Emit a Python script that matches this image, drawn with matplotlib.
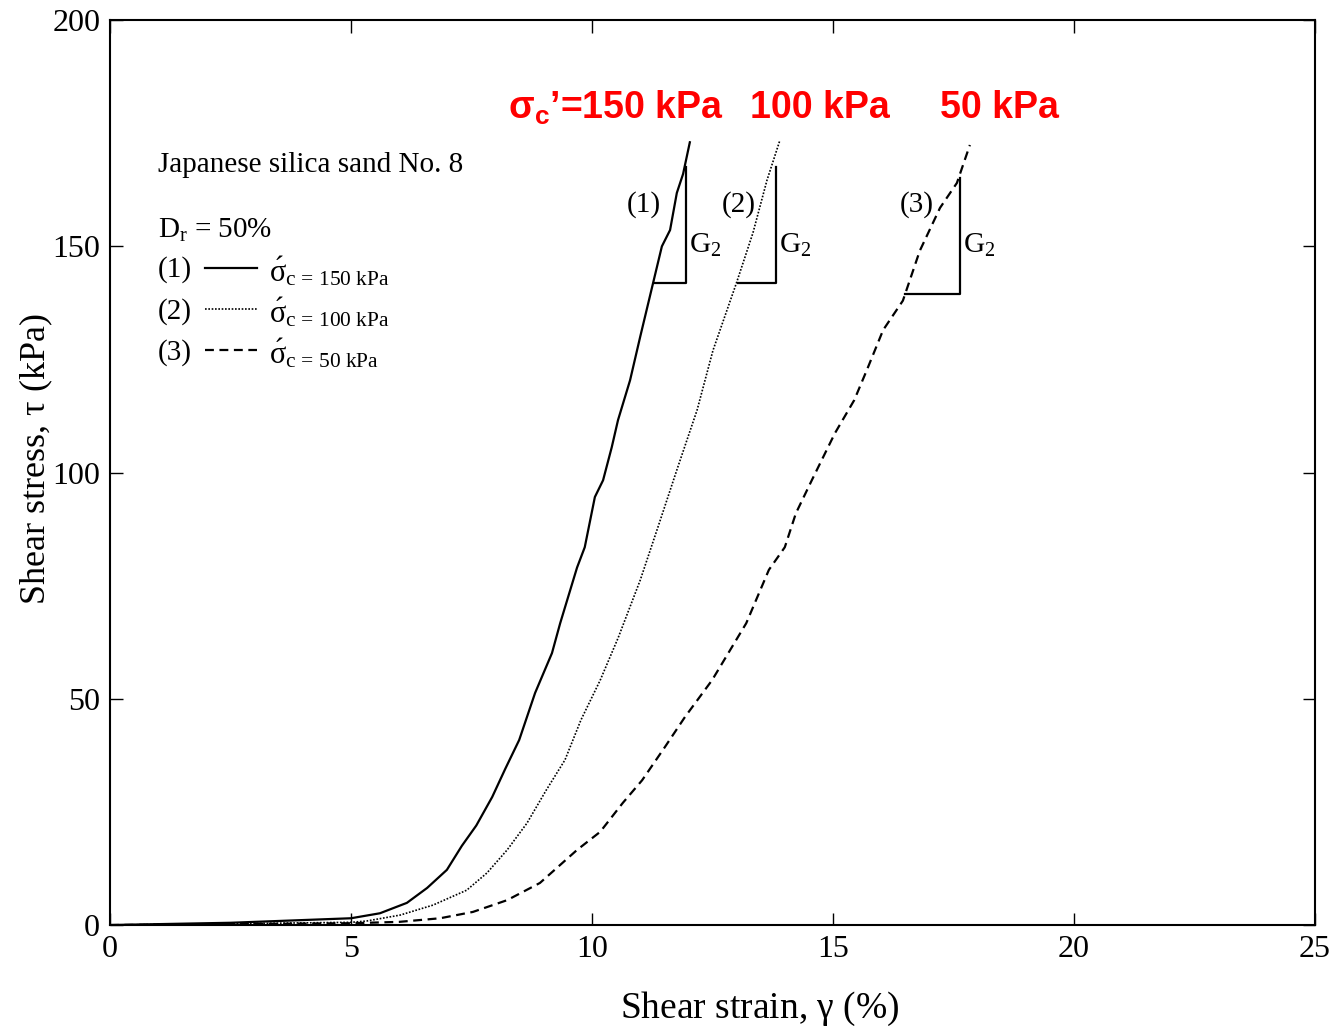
import matplotlib
matplotlib.use('Agg')
from matplotlib import pyplot as plt

plt.rcParams['font.family'] = ['Liberation Serif', 'DejaVu Serif']
plt.rcParams['mathtext.fontset'] = 'custom'
plt.rcParams['mathtext.rm'] = 'Liberation Serif'
plt.rcParams['mathtext.it'] = 'Liberation Serif:italic'
plt.rcParams['mathtext.bf'] = 'Liberation Sans:bold'

# curve (1), sigma_c' = 150 kPa
g150 = [0, 2.5, 5.0, 5.6, 6.16, 6.58, 6.99, 7.3, 7.6, 7.93, 8.2, 8.49, 8.82,
        9.17, 9.34, 9.69, 9.85, 10.06, 10.23, 10.41, 10.54, 10.79, 11.0,
        11.27, 11.45, 11.62, 11.76, 11.89, 12.03]
t150 = [0, 0.5, 1.5, 2.6, 4.9, 8.2, 12.2, 17.5, 22, 28.3, 34.5, 40.9, 51.3,
        60.1, 66.7, 79, 83.5, 94.6, 98.3, 105.6, 111.6, 120.4, 130,
        142, 150, 153.6, 161.8, 166, 173]

# curve (2), sigma_c' = 100 kPa
g100 = [0, 2.5, 5.0, 5.33, 6.02, 6.7, 7.4, 7.82, 8.24, 8.65, 9.05, 9.44, 9.77,
        10.17, 10.54, 11.0, 11.37, 11.78, 12.18, 12.51, 13.0, 13.34,
        13.63, 13.9]
t100 = [0, 0.3, 0.6, 0.9, 2.2, 4.4, 7.7, 11.5, 16.6, 22.5, 29.8, 36.5, 45.3,
        54.1, 63.4, 76.2, 88, 101.2, 113.8, 127, 142, 153,
        164.6, 173.5]

# curve (3), sigma_c' = 50 kPa
g50 = [0, 2.5, 5.0, 6.0, 6.85, 7.53, 8.24, 8.92, 9.69, 10.17, 10.64, 11.04,
       11.51, 11.93, 12.49, 13.2, 13.67, 14.0, 14.23, 14.56, 15.04, 15.44,
       15.7, 16.04, 16.45, 16.8, 17.22, 17.57, 17.84]
t50 = [0, 0.2, 0.4, 0.7, 1.5, 2.9, 5.5, 9.3, 16.6, 20.6, 27, 32,
       39.3, 46, 54.1, 66.7, 78.5, 83.5, 91, 98.3, 108.7, 116,
       122.6, 131.5, 138, 149, 158.5, 164, 172.4]

# G2 slope triangles: (x left, x right, y bottom, y top)
tri = [(11.31, 11.95, 142, 167.5),
       (13.03, 13.82, 142, 167.5),
       (16.49, 17.63, 139.4, 165)]
tri_labels = ['(1)', '(2)', '(3)']
tri_label_x = [11.43, 13.4, 17.08]

red_labels = [r"$\mathbf{\sigma_c}$’=150 kPa", '100 kPa', '50 kPa']
red_x = [12.74, 14.73, 18.46]
red_ha = ['right', 'center', 'center']

styles = [dict(color='black', lw=1.6, ls='-'),
          dict(color='black', lw=1.2, ls=(0, (1, 1))),
          dict(color='black', lw=1.6, ls=(0, (4, 2.5)))]
sig_labels = [r'$\acute{\mathrm{\sigma}}_{\mathrm{c\,=\,150\ kPa}}$',
              r'$\acute{\mathrm{\sigma}}_{\mathrm{c\,=\,100\ kPa}}$',
              r'$\acute{\mathrm{\sigma}}_{\mathrm{c\,=\,50\ kPa}}$']

fig = plt.figure(figsize=(13.36, 10.26), dpi=100)
ax = fig.add_axes([0.0823, 0.0984, 0.902, 0.882])

for (g, t), st in zip([(g150, t150), (g100, t100), (g50, t50)], styles):
    ax.plot(g, t, **st)

for (x0, x1, y0, y1), lab, lx in zip(tri, tri_labels, tri_label_x):
    ax.plot([x0, x1, x1], [y0, y0, y1], color='black', lw=1.6)
    ax.text(x1 + 0.06, 150.3, r'G$_2$', fontsize=21, va='center', ha='left')
    ax.text(lx, 159.3, lab, fontsize=21, va='center', ha='right')

for lab, x, ha in zip(red_labels, red_x, red_ha):
    ax.text(x, 180.5, lab, color='red', fontsize=27, fontweight='bold',
            family='Liberation Sans', ha=ha, va='center')

ax.text(0.04, 0.84, 'Japanese silica sand No. 8', transform=ax.transAxes,
        fontsize=21, va='center')
ax.text(0.04, 0.768, r'D$_\mathrm{r}$ = 50%', transform=ax.transAxes,
        fontsize=21, va='center')
for i, (st, lab) in enumerate(zip(styles, sig_labels)):
    yy = 0.724 - i * 0.0455
    ax.text(0.04, yy, '(%d)' % (i + 1), transform=ax.transAxes,
            fontsize=21, va='center')
    ax.plot([0.079, 0.122], [yy + 0.002, yy + 0.002],
            transform=ax.transAxes, **st)
    ax.text(0.132, yy - 0.002, lab, transform=ax.transAxes,
            fontsize=22, va='center')

ax.set_xlim(0, 25)
ax.set_ylim(0, 200)
ax.set_xticks([0, 5, 10, 15, 20, 25])
ax.set_yticks([0, 50, 100, 150, 200])
ax.tick_params(direction='in', length=9, width=1, top=True, right=True,
               labelsize=23, pad=7)
for s in ax.spines.values():
    s.set_linewidth(1.5)
ax.set_xlabel(r'Shear strain, $\mathrm{\gamma}$ (%)', fontsize=27)
ax.set_ylabel(r'Shear stress, $\mathrm{\tau}$ (kPa)', fontsize=26)
ax.xaxis.set_label_coords(0.539, -0.071)
ax.yaxis.set_label_coords(-0.046, 0.515)

fig.savefig('out.png', dpi=100)
plt.close(fig)
